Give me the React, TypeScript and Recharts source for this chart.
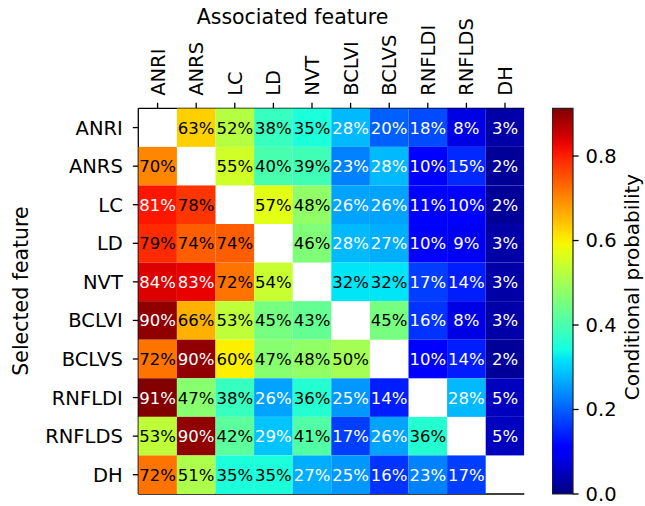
import { ScatterChart, Scatter, XAxis, YAxis, BarChart, Bar } from 'recharts';

const FEATURES = ['ANRI', 'ANRS', 'LC', 'LD', 'NVT', 'BCLVI', 'BCLVS', 'RNFLDI', 'RNFLDS', 'DH'];

// conditional probability, row = selected feature, column = associated feature
const ANRI = [null, 0.63, 0.52, 0.38, 0.35, 0.28, 0.20, 0.18, 0.08, 0.03];
const ANRS = [0.70, null, 0.55, 0.40, 0.39, 0.23, 0.28, 0.10, 0.15, 0.02];
const LC = [0.81, 0.78, null, 0.57, 0.48, 0.26, 0.26, 0.11, 0.10, 0.02];
const LD = [0.79, 0.74, 0.74, null, 0.46, 0.28, 0.27, 0.10, 0.09, 0.03];
const NVT = [0.84, 0.83, 0.72, 0.54, null, 0.32, 0.32, 0.17, 0.14, 0.03];
const BCLVI = [0.90, 0.66, 0.53, 0.45, 0.43, null, 0.45, 0.16, 0.08, 0.03];
const BCLVS = [0.72, 0.90, 0.60, 0.47, 0.48, 0.50, null, 0.10, 0.14, 0.02];
const RNFLDI = [0.91, 0.47, 0.38, 0.26, 0.36, 0.25, 0.14, null, 0.28, 0.05];
const RNFLDS = [0.53, 0.90, 0.42, 0.29, 0.41, 0.17, 0.26, 0.36, null, 0.05];
const DH = [0.72, 0.51, 0.35, 0.35, 0.27, 0.25, 0.16, 0.23, 0.17, null];

const MATRIX = [ANRI, ANRS, LC, LD, NVT, BCLVI, BCLVS, RNFLDI, RNFLDS, DH];

const CB_TICKS = [0, 0.2, 0.4, 0.6, 0.8];
const VMAX = 0.913;

const FONT = '"DejaVu Sans", sans-serif';

// plot box
const PLOT_LEFT = 138.3;
const PLOT_TOP = 108.3;
const PLOT_RIGHT = 524.3;
const PLOT_BOTTOM = 494;
const CELL_W = (PLOT_RIGHT - PLOT_LEFT) / FEATURES.length;
const CELL_H = (PLOT_BOTTOM - PLOT_TOP) / FEATURES.length;

// matplotlib jet segment data
const JET_R = [[0, 0], [0.35, 0], [0.66, 1], [0.89, 1], [1, 0.5]];
const JET_G = [[0, 0], [0.125, 0], [0.375, 1], [0.64, 1], [0.91, 0], [1, 0]];
const JET_B = [[0, 0.5], [0.11, 1], [0.34, 1], [0.65, 0], [1, 0]];

function seg(pts: number[][], t: number) {
  for (let i = 1; i < pts.length; i++) {
    if (t <= pts[i][0]) {
      const [x0, y0] = pts[i - 1];
      const [x1, y1] = pts[i];
      return y0 + ((t - x0) / (x1 - x0)) * (y1 - y0);
    }
  }
  return pts[pts.length - 1][1];
}

function jet(t: number) {
  const c = Math.max(0, Math.min(1, t));
  const r = Math.round(seg(JET_R, c) * 255);
  const g = Math.round(seg(JET_G, c) * 255);
  const b = Math.round(seg(JET_B, c) * 255);
  return `rgb(${r},${g},${b})`;
}

const cells: { x: number; y: number; v: number }[] = [];
MATRIX.forEach((row, y) =>
  row.forEach((v, x) => {
    if (v !== null) cells.push({ x, y, v });
  })
);

const idx = FEATURES.map((_, i) => i);

const Cell = (props: any) => {
  const { cx, cy, payload } = props;
  const v = payload.v;
  const light = v < 0.3 || v > 0.8;
  return (
    <g>
      <rect
        x={cx - CELL_W / 2}
        y={cy - CELL_H / 2}
        width={CELL_W}
        height={CELL_H}
        fill={jet(v / VMAX)}
      />
      <text
        x={cx}
        y={cy}
        dy="0.36em"
        textAnchor="middle"
        fontSize={16.5}
        fontFamily={FONT}
        fill={light ? '#fff' : '#000'}
      >
        {Math.round(v * 100)}%
      </text>
    </g>
  );
};

const TopTick = (props: any) => {
  const { x, y, payload } = props;
  return (
    <text
      x={x}
      y={y}
      dy="0.36em"
      transform={`rotate(-90, ${x}, ${y})`}
      textAnchor="start"
      fontSize={19.5}
      fontFamily={FONT}
      fill="#000"
    >
      {FEATURES[payload.value]}
    </text>
  );
};

const LeftTick = (props: any) => {
  const { x, y, payload } = props;
  return (
    <text x={x} y={y} dy="0.36em" textAnchor="end" fontSize={19.5} fontFamily={FONT} fill="#000">
      {FEATURES[payload.value]}
    </text>
  );
};

const NoTick = () => <g />;

const axisStroke = { stroke: '#000', strokeWidth: 1.3 };

export default function App() {
  const cbWidth = 20.6;
  const cbLeft = 551.7;
  return (
    <div style={{ position: 'absolute', left: 0, top: 0, width: 645, height: 506, background: '#fff' }}>
      <div style={{ position: 'absolute', left: 0, top: 0 }}>
        <ScatterChart
          width={645}
          height={506}
          margin={{ top: 0, right: 645 - PLOT_RIGHT, bottom: 0, left: 0 }}
        >
          <XAxis
            xAxisId="top"
            orientation="top"
            type="number"
            dataKey="x"
            domain={[-0.5, 9.5]}
            allowDataOverflow
            ticks={idx}
            interval={0}
            height={PLOT_TOP}
            tickSize={5.5}
            tickMargin={7}
            tick={TopTick}
            axisLine={axisStroke}
            tickLine={axisStroke}
          />
          <XAxis
            xAxisId="bottom"
            orientation="bottom"
            type="number"
            domain={[-0.5, 9.5]}
            allowDataOverflow
            ticks={idx}
            interval={0}
            height={506 - PLOT_BOTTOM}
            tickSize={5.5}
            tick={NoTick}
            axisLine={axisStroke}
            tickLine={axisStroke}
          />
          <YAxis
            yAxisId="left"
            orientation="left"
            type="number"
            dataKey="y"
            domain={[-0.5, 9.5]}
            allowDataOverflow
            reversed
            ticks={idx}
            interval={0}
            width={PLOT_LEFT}
            tickSize={5.5}
            tickMargin={10}
            tick={LeftTick}
            axisLine={axisStroke}
            tickLine={axisStroke}
          />
          <YAxis
            yAxisId="right"
            orientation="right"
            type="number"
            domain={[-0.5, 9.5]}
            allowDataOverflow
            width={0}
            tick={false}
            tickLine={false}
            axisLine={axisStroke}
          />
          <Scatter
            data={cells}
            xAxisId="top"
            yAxisId="left"
            shape={Cell}
            isAnimationActive={false}
          />
        </ScatterChart>
        <svg
          width={645}
          height={506}
          style={{ position: 'absolute', left: 0, top: 0, pointerEvents: 'none' }}
        >
          <text x={292.5} y={24} textAnchor="middle" fontSize={20.5} fontFamily={FONT} fill="#000">
            Associated feature
          </text>
          <text
            x={28}
            y={291}
            textAnchor="middle"
            transform="rotate(-90, 28, 291)"
            fontSize={20.5}
            fontFamily={FONT}
            fill="#000"
          >
            Selected feature
          </text>
          <text
            x={639}
            y={287}
            textAnchor="middle"
            transform="rotate(-90, 639, 287)"
            fontSize={20}
            fontFamily={FONT}
            fill="#000"
          >
            Conditional probability
          </text>
        </svg>
      </div>
      <div style={{ position: 'absolute', left: cbLeft, top: 0 }}>
        <BarChart
          width={645 - cbLeft - 16}
          height={506}
          data={[{ name: 'cb', v: VMAX }]}
          margin={{ top: PLOT_TOP, right: 0, bottom: 506 - PLOT_BOTTOM, left: 0 }}
          barCategoryGap={0}
        >
          <defs>
            <linearGradient id="jetGrad" x1="0" y1="0" x2="0" y2="1">
              {Array.from({ length: 41 }, (_, i) => (
                <stop key={i} offset={`${(i / 40) * 100}%`} stopColor={jet(1 - i / 40)} />
              ))}
            </linearGradient>
          </defs>
          <XAxis dataKey="name" hide />
          <YAxis
            orientation="right"
            type="number"
            domain={[0, VMAX]}
            ticks={CB_TICKS}
            interval={0}
            width={645 - cbLeft - 16 - cbWidth}
            tickSize={6}
            tickMargin={7}
            tickFormatter={(v: number) => v.toFixed(1)}
            tick={{ fill: '#000', fontSize: 19.5, fontFamily: FONT }}
            axisLine={false}
            tickLine={axisStroke}
          />
          <Bar
            dataKey="v"
            fill="url(#jetGrad)"
            stroke="#222"
            strokeWidth={1.2}
            isAnimationActive={false}
          />
        </BarChart>
      </div>
    </div>
  );
}
